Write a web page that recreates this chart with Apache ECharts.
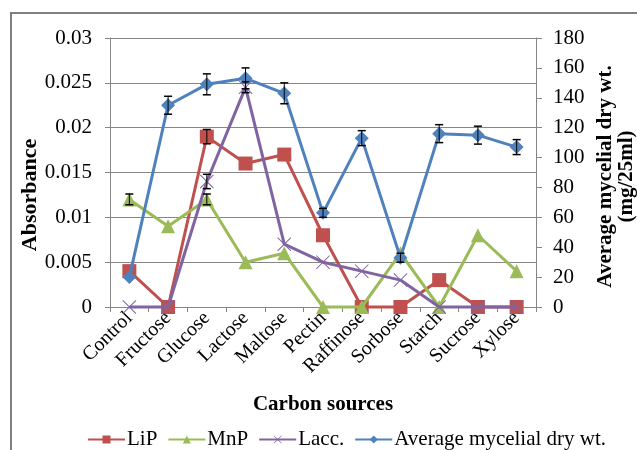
<!DOCTYPE html>
<html><head><meta charset="utf-8">
<script src="https://cdn.jsdelivr.net/npm/echarts@6/dist/echarts.min.js"></script>
<style>html,body{margin:0;padding:0;background:#fff}#c{width:637px;height:450px}</style>
</head><body><div id="c"></div>
<script>
var categories = ['Control','Fructose','Glucose','Lactose','Maltose','Pectin','Raffinose','Sorbose','Starch','Sucrose','Xylose'];
var lip  = [0.004, 0, 0.019, 0.016, 0.017, 0.008, 0, 0, 0.003, 0, 0];
var mnp  = [0.012, 0.009, 0.012, 0.005, 0.006, 0, 0, 0.006, 0, 0.008, 0.004];
var lacc = [0, 0, 0.014, 0.0245, 0.007, 0.005, 0.004, 0.003, 0, 0, 0];
var dryWt = [20, 135, 149, 153, 143, 63, 113, 33, 116, 115, 107];
var dryWtErr = [0, 6, 7, 7, 7, 3, 5, 3, 6, 6, 5];
var lipErr = [0, 0, 0.0008, 0, 0, 0, 0, 0, 0, 0, 0];
var mnpErr = [0.0006, 0, 0.0006, 0, 0, 0, 0, 0, 0, 0, 0];
var laccErr = [0, 0, 0.0008, 0.0006, 0, 0, 0, 0, 0, 0, 0];
var leftTicks = [0, 0.005, 0.01, 0.015, 0.02, 0.025, 0.03];
var rightTicks = [0, 20, 40, 60, 80, 100, 120, 140, 160, 180];

var serif = '"Liberation Serif", "Times New Roman", serif';
var xPath = 'path://M0,1L1,0L10,9L19,0L20,1L11,10L20,19L19,20L10,11L1,20L0,19L9,10Z';

function errSeries(vals, errs, yIdx) {
  var d = vals.map(function (v, i) { return [i, v, errs[i]]; }).filter(function (r) { return r[2] > 0; });
  return {
    type: 'custom', yAxisIndex: yIdx, z: 10, silent: true, legendHoverLink: false,
    data: d,
    renderItem: function (params, api) {
      var x = api.value(0), v = api.value(1), e = api.value(2);
      var hi = api.coord([x, v + e]), lo = api.coord([x, v - e]);
      var w = 4;
      return { type: 'group', children: [
        { type: 'line', shape: { x1: hi[0], y1: hi[1], x2: lo[0], y2: lo[1] }, style: { stroke: '#000', lineWidth: 1 } },
        { type: 'line', shape: { x1: hi[0] - w, y1: hi[1], x2: hi[0] + w, y2: hi[1] }, style: { stroke: '#000', lineWidth: 1.5 } },
        { type: 'line', shape: { x1: lo[0] - w, y1: lo[1], x2: lo[0] + w, y2: lo[1] }, style: { stroke: '#000', lineWidth: 1.5 } }
      ]};
    }
  };
}

var chart = echarts.init(document.getElementById('c'));
chart.setOption({
  animation: false,
  backgroundColor: '#fff',
  graphic: [
    { type: 'rect', shape: { x: 11, y: 13, width: 700, height: 500 }, style: { fill: 'none', stroke: '#7f7f7f', lineWidth: 2 }, z: -1 },
    { type: 'text', x: 30, y: 195, rotation: Math.PI / 2,
      style: { text: 'Absorbance', font: 'bold 22px "Liberation Serif", serif', fill: '#000', align: 'center', verticalAlign: 'middle' } }
  ],
  grid: { left: 110, right: 101, top: 38, bottom: 143, containLabel: false, outerBoundsMode: 'none' },
  legend: {
    top: 424, left: 82, itemWidth: 37, itemHeight: 10, itemGap: 10,
    textStyle: { fontFamily: serif, fontSize: 21, color: '#000', padding: [0, 0, 0, -3] },
    data: ['LiP', 'MnP', 'Lacc.', 'Average mycelial dry wt.']
  },
  xAxis: {
    type: 'category', data: categories, boundaryGap: true,
    axisLine: { lineStyle: { color: '#868686', width: 1 } },
    axisTick: { show: true, length: 5, lineStyle: { color: '#868686' } },
    axisLabel: { rotate: 45, fontFamily: serif, fontSize: 20, color: '#000', interval: 0, margin: 8 },
    name: 'Carbon sources', nameLocation: 'middle', nameGap: 87,
    nameTextStyle: { fontFamily: serif, fontSize: 21, fontWeight: 'bold', color: '#000' }
  },
  yAxis: [{
    type: 'value', min: 0, max: 0.03, interval: 0.005,
    axisLine: { show: true, lineStyle: { color: '#868686' } },
    axisTick: { show: true, length: 5, lineStyle: { color: '#868686' } },
    splitLine: { lineStyle: { color: '#868686', width: 1 } },
    axisLabel: { fontFamily: serif, fontSize: 21, color: '#000', margin: 18,
      formatter: function (v) { var m = leftTicks.filter(function (t) { return Math.abs(t - v) < 1e-9; }); return m.length ? String(m[0]) : ''; } }
  }, {
    type: 'value', min: 0, max: 180, interval: 20, position: 'right',
    axisLine: { show: true, lineStyle: { color: '#868686' } },
    axisTick: { show: true, length: 6, lineStyle: { color: '#868686' } },
    splitLine: { show: false },
    axisLabel: { fontFamily: serif, fontSize: 21, color: '#000', margin: 17,
      formatter: function (v) { return rightTicks.indexOf(v) >= 0 ? String(v) : ''; } },
    name: 'Average mycelial dry wt.\n(mg/25ml)', nameLocation: 'middle', nameGap: 58, nameRotate: 90,
    nameTextStyle: { fontFamily: serif, fontSize: 21, fontWeight: 'bold', color: '#000', lineHeight: 21, padding: [0, 0, 0, -8] }
  }],
  series: [
    { name: 'LiP', type: 'line', data: lip, yAxisIndex: 0, clip: false, symbol: 'rect', symbolSize: 14,
      lineStyle: { color: '#C0504D', width: 3 }, itemStyle: { color: '#C0504D' }, z: 3 },
    { name: 'MnP', type: 'line', data: mnp, yAxisIndex: 0, clip: false, symbol: 'triangle', symbolSize: 14,
      lineStyle: { color: '#9BBB59', width: 3 }, itemStyle: { color: '#9BBB59' }, z: 4 },
    { name: 'Lacc.', type: 'line', data: lacc, yAxisIndex: 0, clip: false, symbol: xPath, symbolSize: 14,
      lineStyle: { color: '#8064A2', width: 3 }, itemStyle: { color: '#8064A2' }, z: 5 },
    { name: 'Average mycelial dry wt.', type: 'line', data: dryWt, yAxisIndex: 1, clip: false, symbol: 'diamond', symbolSize: 14,
      lineStyle: { color: '#4F81BD', width: 3 }, itemStyle: { color: '#4F81BD' }, z: 6 },
    errSeries(dryWt, dryWtErr, 1),
    errSeries(lip, lipErr, 0),
    errSeries(mnp, mnpErr, 0),
    errSeries(lacc, laccErr, 0)
  ]
});
</script></body></html>
